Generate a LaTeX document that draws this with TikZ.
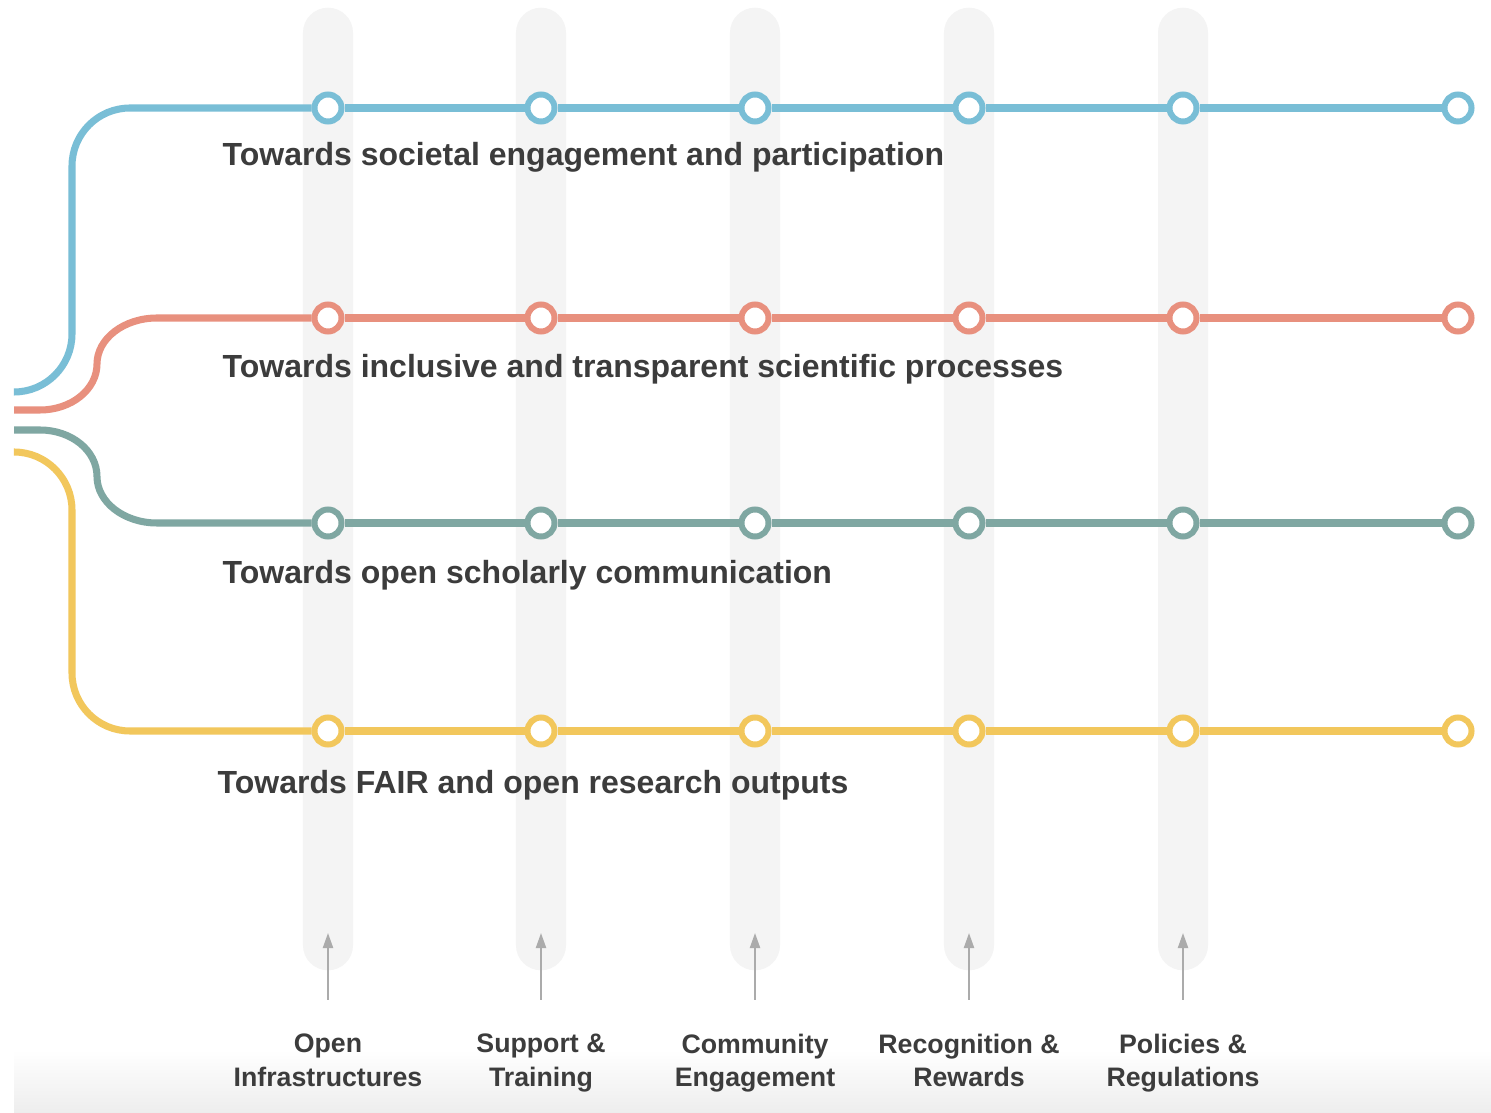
\documentclass[tikz,border=0pt]{standalone}
\usepackage{fontspec}
\setmainfont{Liberation Sans}
\usetikzlibrary{arrows.meta}

\definecolor{skyline}{HTML}{79BED6}
\definecolor{coralline}{HTML}{E8907E}
\definecolor{tealline}{HTML}{7FA7A2}
\definecolor{sunline}{HTML}{F2C75C}
\definecolor{trackgray}{HTML}{F4F4F4}
\definecolor{ink}{HTML}{3C3C3C}
\definecolor{arrowgray}{HTML}{ABABAB}

\begin{document}
\begin{tikzpicture}[x=0.01cm,y=-0.01cm]
            \tikzstyle{track}=[rectangle, fill=trackgray, rounded corners=0.25cm, minimum width=0.5cm, minimum height=9.62cm, inner sep=0pt]
            \tikzstyle{stop}=[circle, fill=white, minimum size=0.27cm, inner sep=0pt, line width=1.7pt]
            \tikzstyle{route}=[line width=2pt]
            \tikzstyle{goal}=[anchor=base west, inner sep=0pt, text=ink, font=\fontsize{9.1}{11}\selectfont\bfseries]
            \tikzstyle{pillar}=[anchor=north, align=center, inner sep=0pt, text=ink, font=\fontsize{7.6}{9.6}\selectfont\bfseries]
            \tikzstyle{feed}=[-{Triangle[length=0.15cm,width=0.1cm]}, line width=0.6pt, draw=arrowgray, fill=arrowgray, shorten <=0.33cm]
            \useasboundingbox (0,0) rectangle (1491,1113);
            \fill[white] (0,0) rectangle (1491,1113);
            \shade[top color=white, bottom color=black!7] (14,1050) rectangle (1491,1113);

            % grey columns
            \node[track] (T1) at (328,489){};
            \node[track] (T2) at (541,489){};
            \node[track] (T3) at (755,489){};
            \node[track] (T4) at (969,489){};
            \node[track] (T5) at (1183,489){};

            % stops
            \node[stop, draw=skyline] (B1) at (328,108){};
            \node[stop, draw=skyline] (B2) at (541,108){};
            \node[stop, draw=skyline] (B3) at (755,108){};
            \node[stop, draw=skyline] (B4) at (969,108){};
            \node[stop, draw=skyline] (B5) at (1183,108){};
            \node[stop, draw=skyline] (B6) at (1458,108){};

            \node[stop, draw=coralline] (R1) at (328,318){};
            \node[stop, draw=coralline] (R2) at (541,318){};
            \node[stop, draw=coralline] (R3) at (755,318){};
            \node[stop, draw=coralline] (R4) at (969,318){};
            \node[stop, draw=coralline] (R5) at (1183,318){};
            \node[stop, draw=coralline] (R6) at (1458,318){};

            \node[stop, draw=tealline] (G1) at (328,523){};
            \node[stop, draw=tealline] (G2) at (541,523){};
            \node[stop, draw=tealline] (G3) at (755,523){};
            \node[stop, draw=tealline] (G4) at (969,523){};
            \node[stop, draw=tealline] (G5) at (1183,523){};
            \node[stop, draw=tealline] (G6) at (1458,523){};

            \node[stop, draw=sunline] (Y1) at (328,731){};
            \node[stop, draw=sunline] (Y2) at (541,731){};
            \node[stop, draw=sunline] (Y3) at (755,731){};
            \node[stop, draw=sunline] (Y4) at (969,731){};
            \node[stop, draw=sunline] (Y5) at (1183,731){};
            \node[stop, draw=sunline] (Y6) at (1458,731){};

            \coordinate (B0) at (14,392);
            \coordinate (R0) at (14,410);
            \coordinate (G0) at (14,430);
            \coordinate (Y0) at (14,452);

            % the four lines
            \draw[route, skyline, rounded corners=0.58cm] (B0) -- (72,392) -- (72,108) -- (B1);
            \draw[route, coralline] (R0) -- (40,410) .. controls (71.5,410) and (97,389.4) .. (97,364) .. controls (97,338.6) and (124,318) .. (157,318) -- (R1);
            \draw[route, tealline] (G0) -- (40,430) .. controls (71.5,430) and (97,450.7) .. (97,476.5) .. controls (97,502.2) and (124,523) .. (157,523) -- (G1);
            \draw[route, sunline, rounded corners=0.58cm] (Y0) -- (72,452) -- (72,731) -- (Y1);
            \path[-] (B1) edge [route, skyline] (B2) (B2) edge [route, skyline] (B3) (B3) edge [route, skyline] (B4) (B4) edge [route, skyline] (B5) (B5) edge [route, skyline] (B6);
            \path[-] (R1) edge [route, coralline] (R2) (R2) edge [route, coralline] (R3) (R3) edge [route, coralline] (R4) (R4) edge [route, coralline] (R5) (R5) edge [route, coralline] (R6);
            \path[-] (G1) edge [route, tealline] (G2) (G2) edge [route, tealline] (G3) (G3) edge [route, tealline] (G4) (G4) edge [route, tealline] (G5) (G5) edge [route, tealline] (G6);
            \path[-] (Y1) edge [route, sunline] (Y2) (Y2) edge [route, sunline] (Y3) (Y3) edge [route, sunline] (Y4) (Y4) edge [route, sunline] (Y5) (Y5) edge [route, sunline] (Y6);

            % line titles
            \node[goal] (GB) at (222,166){Towards societal engagement and participation};
            \node[goal] (GR) at (222,378){Towards inclusive and transparent scientific processes};
            \node[goal] (GG) at (222,584){Towards open scholarly communication};
            \node[goal] (GY) at (217,794){Towards FAIR and open research outputs};

            % columns
            \node[pillar] (L1) at (328,1033){Open\\Infrastructures};
            \node[pillar] (L2) at (541,1033){Support \&\\Training};
            \node[pillar] (L3) at (755,1033){Community\\Engagement};
            \node[pillar] (L4) at (969,1033){Recognition \&\\Rewards};
            \node[pillar] (L5) at (1183,1033){Policies \&\\Regulations};
            \coordinate (A1) at (328,933);
            \coordinate (A2) at (541,933);
            \coordinate (A3) at (755,933);
            \coordinate (A4) at (969,933);
            \coordinate (A5) at (1183,933);
            \draw[feed] (L1.north) -- (A1);
            \draw[feed] (L2.north) -- (A2);
            \draw[feed] (L3.north) -- (A3);
            \draw[feed] (L4.north) -- (A4);
            \draw[feed] (L5.north) -- (A5);
        \end{tikzpicture}
\end{document}
